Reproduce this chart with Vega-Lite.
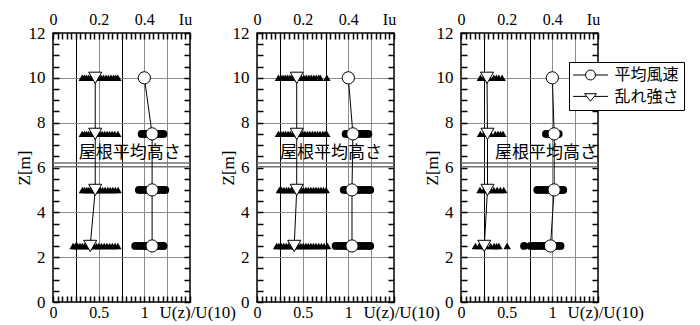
{
  "$schema": "https://vega.github.io/schema/vega-lite/v6.json",
  "padding": {"left": 14, "top": 10, "right": 0, "bottom": 0},
  "background": "white",
  "spacing": 67,
  "bounds": "flush",
  "resolve": {"legend": {"shape": "independent"}},
  "datasets": {
    "mean": [
      {"p": 1, "z": 10, "u": 1.0}, {"p": 1, "z": 7.5, "u": 1.085}, {"p": 1, "z": 5, "u": 1.085}, {"p": 1, "z": 2.5, "u": 1.085},
      {"p": 2, "z": 10, "u": 1.0}, {"p": 2, "z": 7.5, "u": 1.05}, {"p": 2, "z": 5, "u": 1.04}, {"p": 2, "z": 2.5, "u": 1.04},
      {"p": 3, "z": 10, "u": 1.0}, {"p": 3, "z": 7.5, "u": 1.02}, {"p": 3, "z": 5, "u": 1.02}, {"p": 3, "z": 2.5, "u": 0.98}
    ],
    "meanSpread": [
      {"p": 1, "z": 7.5, "u": 0.97}, {"p": 1, "z": 7.5, "u": 0.99}, {"p": 1, "z": 7.5, "u": 1.02}, {"p": 1, "z": 7.5, "u": 1.05}, {"p": 1, "z": 7.5, "u": 1.08}, {"p": 1, "z": 7.5, "u": 1.11}, {"p": 1, "z": 7.5, "u": 1.14}, {"p": 1, "z": 7.5, "u": 1.17}, {"p": 1, "z": 7.5, "u": 1.19}, {"p": 1, "z": 7.5, "u": 1.21},
      {"p": 1, "z": 5, "u": 0.94}, {"p": 1, "z": 5, "u": 0.97}, {"p": 1, "z": 5, "u": 1.0}, {"p": 1, "z": 5, "u": 1.03}, {"p": 1, "z": 5, "u": 1.06}, {"p": 1, "z": 5, "u": 1.09}, {"p": 1, "z": 5, "u": 1.12}, {"p": 1, "z": 5, "u": 1.15}, {"p": 1, "z": 5, "u": 1.18}, {"p": 1, "z": 5, "u": 1.21}, {"p": 1, "z": 5, "u": 1.23},
      {"p": 1, "z": 2.5, "u": 0.9}, {"p": 1, "z": 2.5, "u": 0.93}, {"p": 1, "z": 2.5, "u": 0.96}, {"p": 1, "z": 2.5, "u": 0.99}, {"p": 1, "z": 2.5, "u": 1.02}, {"p": 1, "z": 2.5, "u": 1.05}, {"p": 1, "z": 2.5, "u": 1.08}, {"p": 1, "z": 2.5, "u": 1.11}, {"p": 1, "z": 2.5, "u": 1.14}, {"p": 1, "z": 2.5, "u": 1.17}, {"p": 1, "z": 2.5, "u": 1.2}, {"p": 1, "z": 2.5, "u": 1.21},
      {"p": 2, "z": 7.5, "u": 0.97}, {"p": 2, "z": 7.5, "u": 1.0}, {"p": 2, "z": 7.5, "u": 1.03}, {"p": 2, "z": 7.5, "u": 1.06}, {"p": 2, "z": 7.5, "u": 1.09}, {"p": 2, "z": 7.5, "u": 1.12}, {"p": 2, "z": 7.5, "u": 1.15}, {"p": 2, "z": 7.5, "u": 1.18}, {"p": 2, "z": 7.5, "u": 1.2}, {"p": 2, "z": 7.5, "u": 1.22},
      {"p": 2, "z": 5, "u": 0.95}, {"p": 2, "z": 5, "u": 0.98}, {"p": 2, "z": 5, "u": 1.01}, {"p": 2, "z": 5, "u": 1.04}, {"p": 2, "z": 5, "u": 1.07}, {"p": 2, "z": 5, "u": 1.1}, {"p": 2, "z": 5, "u": 1.13}, {"p": 2, "z": 5, "u": 1.16}, {"p": 2, "z": 5, "u": 1.19}, {"p": 2, "z": 5, "u": 1.22}, {"p": 2, "z": 5, "u": 1.24},
      {"p": 2, "z": 2.5, "u": 0.86}, {"p": 2, "z": 2.5, "u": 0.89}, {"p": 2, "z": 2.5, "u": 0.92}, {"p": 2, "z": 2.5, "u": 0.95}, {"p": 2, "z": 2.5, "u": 0.98}, {"p": 2, "z": 2.5, "u": 1.01}, {"p": 2, "z": 2.5, "u": 1.04}, {"p": 2, "z": 2.5, "u": 1.07}, {"p": 2, "z": 2.5, "u": 1.1}, {"p": 2, "z": 2.5, "u": 1.13}, {"p": 2, "z": 2.5, "u": 1.16}, {"p": 2, "z": 2.5, "u": 1.19}, {"p": 2, "z": 2.5, "u": 1.22}, {"p": 2, "z": 2.5, "u": 1.24},
      {"p": 3, "z": 7.5, "u": 0.93}, {"p": 3, "z": 7.5, "u": 0.95}, {"p": 3, "z": 7.5, "u": 0.98}, {"p": 3, "z": 7.5, "u": 1.0}, {"p": 3, "z": 7.5, "u": 1.03}, {"p": 3, "z": 7.5, "u": 1.05}, {"p": 3, "z": 7.5, "u": 1.07},
      {"p": 3, "z": 5, "u": 0.835}, {"p": 3, "z": 5, "u": 0.86}, {"p": 3, "z": 5, "u": 0.89}, {"p": 3, "z": 5, "u": 0.92}, {"p": 3, "z": 5, "u": 0.95}, {"p": 3, "z": 5, "u": 0.99}, {"p": 3, "z": 5, "u": 1.02}, {"p": 3, "z": 5, "u": 1.05}, {"p": 3, "z": 5, "u": 1.08}, {"p": 3, "z": 5, "u": 1.1}, {"p": 3, "z": 5, "u": 1.12},
      {"p": 3, "z": 2.5, "u": 0.69}, {"p": 3, "z": 2.5, "u": 0.76}, {"p": 3, "z": 2.5, "u": 0.79}, {"p": 3, "z": 2.5, "u": 0.82}, {"p": 3, "z": 2.5, "u": 0.85}, {"p": 3, "z": 2.5, "u": 0.88}, {"p": 3, "z": 2.5, "u": 0.91}, {"p": 3, "z": 2.5, "u": 0.94}, {"p": 3, "z": 2.5, "u": 0.97}, {"p": 3, "z": 2.5, "u": 1.0}, {"p": 3, "z": 2.5, "u": 1.03}, {"p": 3, "z": 2.5, "u": 1.06}, {"p": 3, "z": 2.5, "u": 1.09}
    ],
    "iu": [
      {"p": 1, "z": 10, "iu": 0.185}, {"p": 1, "z": 7.5, "iu": 0.185}, {"p": 1, "z": 5, "iu": 0.185}, {"p": 1, "z": 2.5, "iu": 0.163},
      {"p": 2, "z": 10, "iu": 0.174}, {"p": 2, "z": 7.5, "iu": 0.174}, {"p": 2, "z": 5, "iu": 0.174}, {"p": 2, "z": 2.5, "iu": 0.163},
      {"p": 3, "z": 10, "iu": 0.114}, {"p": 3, "z": 7.5, "iu": 0.116}, {"p": 3, "z": 5, "iu": 0.116}, {"p": 3, "z": 2.5, "iu": 0.102}
    ],
    "iuSpread": [
      {"p": 1, "z": 10, "iu": 0.128}, {"p": 1, "z": 10, "iu": 0.137}, {"p": 1, "z": 10, "iu": 0.146}, {"p": 1, "z": 10, "iu": 0.155}, {"p": 1, "z": 10, "iu": 0.164}, {"p": 1, "z": 10, "iu": 0.173}, {"p": 1, "z": 10, "iu": 0.182}, {"p": 1, "z": 10, "iu": 0.192}, {"p": 1, "z": 10, "iu": 0.201}, {"p": 1, "z": 10, "iu": 0.211}, {"p": 1, "z": 10, "iu": 0.221}, {"p": 1, "z": 10, "iu": 0.232}, {"p": 1, "z": 10, "iu": 0.243}, {"p": 1, "z": 10, "iu": 0.254}, {"p": 1, "z": 10, "iu": 0.265}, {"p": 1, "z": 10, "iu": 0.275}, {"p": 1, "z": 10, "iu": 0.284},
      {"p": 1, "z": 7.5, "iu": 0.128}, {"p": 1, "z": 7.5, "iu": 0.138}, {"p": 1, "z": 7.5, "iu": 0.147}, {"p": 1, "z": 7.5, "iu": 0.156}, {"p": 1, "z": 7.5, "iu": 0.166}, {"p": 1, "z": 7.5, "iu": 0.175}, {"p": 1, "z": 7.5, "iu": 0.185}, {"p": 1, "z": 7.5, "iu": 0.195}, {"p": 1, "z": 7.5, "iu": 0.205}, {"p": 1, "z": 7.5, "iu": 0.215}, {"p": 1, "z": 7.5, "iu": 0.226}, {"p": 1, "z": 7.5, "iu": 0.237}, {"p": 1, "z": 7.5, "iu": 0.248}, {"p": 1, "z": 7.5, "iu": 0.259}, {"p": 1, "z": 7.5, "iu": 0.27}, {"p": 1, "z": 7.5, "iu": 0.284},
      {"p": 1, "z": 5, "iu": 0.129}, {"p": 1, "z": 5, "iu": 0.138}, {"p": 1, "z": 5, "iu": 0.148}, {"p": 1, "z": 5, "iu": 0.157}, {"p": 1, "z": 5, "iu": 0.167}, {"p": 1, "z": 5, "iu": 0.177}, {"p": 1, "z": 5, "iu": 0.187}, {"p": 1, "z": 5, "iu": 0.197}, {"p": 1, "z": 5, "iu": 0.207}, {"p": 1, "z": 5, "iu": 0.217}, {"p": 1, "z": 5, "iu": 0.228}, {"p": 1, "z": 5, "iu": 0.24}, {"p": 1, "z": 5, "iu": 0.251}, {"p": 1, "z": 5, "iu": 0.262}, {"p": 1, "z": 5, "iu": 0.273}, {"p": 1, "z": 5, "iu": 0.285},
      {"p": 1, "z": 2.5, "iu": 0.088}, {"p": 1, "z": 2.5, "iu": 0.098}, {"p": 1, "z": 2.5, "iu": 0.108}, {"p": 1, "z": 2.5, "iu": 0.118}, {"p": 1, "z": 2.5, "iu": 0.128}, {"p": 1, "z": 2.5, "iu": 0.138}, {"p": 1, "z": 2.5, "iu": 0.148}, {"p": 1, "z": 2.5, "iu": 0.158}, {"p": 1, "z": 2.5, "iu": 0.168}, {"p": 1, "z": 2.5, "iu": 0.179}, {"p": 1, "z": 2.5, "iu": 0.19}, {"p": 1, "z": 2.5, "iu": 0.201}, {"p": 1, "z": 2.5, "iu": 0.212}, {"p": 1, "z": 2.5, "iu": 0.224}, {"p": 1, "z": 2.5, "iu": 0.236}, {"p": 1, "z": 2.5, "iu": 0.248}, {"p": 1, "z": 2.5, "iu": 0.26}, {"p": 1, "z": 2.5, "iu": 0.272}, {"p": 1, "z": 2.5, "iu": 0.284},
      {"p": 2, "z": 10, "iu": 0.094}, {"p": 2, "z": 10, "iu": 0.104}, {"p": 2, "z": 10, "iu": 0.114}, {"p": 2, "z": 10, "iu": 0.124}, {"p": 2, "z": 10, "iu": 0.134}, {"p": 2, "z": 10, "iu": 0.144}, {"p": 2, "z": 10, "iu": 0.154}, {"p": 2, "z": 10, "iu": 0.164}, {"p": 2, "z": 10, "iu": 0.174}, {"p": 2, "z": 10, "iu": 0.184}, {"p": 2, "z": 10, "iu": 0.194}, {"p": 2, "z": 10, "iu": 0.205}, {"p": 2, "z": 10, "iu": 0.216}, {"p": 2, "z": 10, "iu": 0.227}, {"p": 2, "z": 10, "iu": 0.238}, {"p": 2, "z": 10, "iu": 0.249}, {"p": 2, "z": 10, "iu": 0.26}, {"p": 2, "z": 10, "iu": 0.27}, {"p": 2, "z": 10, "iu": 0.277}, {"p": 2, "z": 10, "iu": 0.306},
      {"p": 2, "z": 7.5, "iu": 0.094}, {"p": 2, "z": 7.5, "iu": 0.104}, {"p": 2, "z": 7.5, "iu": 0.115}, {"p": 2, "z": 7.5, "iu": 0.125}, {"p": 2, "z": 7.5, "iu": 0.136}, {"p": 2, "z": 7.5, "iu": 0.146}, {"p": 2, "z": 7.5, "iu": 0.157}, {"p": 2, "z": 7.5, "iu": 0.167}, {"p": 2, "z": 7.5, "iu": 0.178}, {"p": 2, "z": 7.5, "iu": 0.188}, {"p": 2, "z": 7.5, "iu": 0.199}, {"p": 2, "z": 7.5, "iu": 0.21}, {"p": 2, "z": 7.5, "iu": 0.221}, {"p": 2, "z": 7.5, "iu": 0.232}, {"p": 2, "z": 7.5, "iu": 0.243}, {"p": 2, "z": 7.5, "iu": 0.254}, {"p": 2, "z": 7.5, "iu": 0.265}, {"p": 2, "z": 7.5, "iu": 0.276}, {"p": 2, "z": 7.5, "iu": 0.288}, {"p": 2, "z": 7.5, "iu": 0.298}, {"p": 2, "z": 7.5, "iu": 0.306},
      {"p": 2, "z": 5, "iu": 0.098}, {"p": 2, "z": 5, "iu": 0.108}, {"p": 2, "z": 5, "iu": 0.118}, {"p": 2, "z": 5, "iu": 0.129}, {"p": 2, "z": 5, "iu": 0.139}, {"p": 2, "z": 5, "iu": 0.15}, {"p": 2, "z": 5, "iu": 0.16}, {"p": 2, "z": 5, "iu": 0.171}, {"p": 2, "z": 5, "iu": 0.181}, {"p": 2, "z": 5, "iu": 0.192}, {"p": 2, "z": 5, "iu": 0.203}, {"p": 2, "z": 5, "iu": 0.214}, {"p": 2, "z": 5, "iu": 0.225}, {"p": 2, "z": 5, "iu": 0.236}, {"p": 2, "z": 5, "iu": 0.247}, {"p": 2, "z": 5, "iu": 0.258}, {"p": 2, "z": 5, "iu": 0.269}, {"p": 2, "z": 5, "iu": 0.28}, {"p": 2, "z": 5, "iu": 0.291}, {"p": 2, "z": 5, "iu": 0.303},
      {"p": 2, "z": 2.5, "iu": 0.086}, {"p": 2, "z": 2.5, "iu": 0.096}, {"p": 2, "z": 2.5, "iu": 0.107}, {"p": 2, "z": 2.5, "iu": 0.117}, {"p": 2, "z": 2.5, "iu": 0.128}, {"p": 2, "z": 2.5, "iu": 0.138}, {"p": 2, "z": 2.5, "iu": 0.149}, {"p": 2, "z": 2.5, "iu": 0.159}, {"p": 2, "z": 2.5, "iu": 0.17}, {"p": 2, "z": 2.5, "iu": 0.181}, {"p": 2, "z": 2.5, "iu": 0.192}, {"p": 2, "z": 2.5, "iu": 0.203}, {"p": 2, "z": 2.5, "iu": 0.214}, {"p": 2, "z": 2.5, "iu": 0.225}, {"p": 2, "z": 2.5, "iu": 0.236}, {"p": 2, "z": 2.5, "iu": 0.247}, {"p": 2, "z": 2.5, "iu": 0.258}, {"p": 2, "z": 2.5, "iu": 0.27}, {"p": 2, "z": 2.5, "iu": 0.282}, {"p": 2, "z": 2.5, "iu": 0.294}, {"p": 2, "z": 2.5, "iu": 0.309},
      {"p": 3, "z": 10, "iu": 0.085}, {"p": 3, "z": 10, "iu": 0.1}, {"p": 3, "z": 10, "iu": 0.112}, {"p": 3, "z": 10, "iu": 0.125}, {"p": 3, "z": 10, "iu": 0.144}, {"p": 3, "z": 10, "iu": 0.155}, {"p": 3, "z": 10, "iu": 0.166}, {"p": 3, "z": 10, "iu": 0.18},
      {"p": 3, "z": 7.5, "iu": 0.085}, {"p": 3, "z": 7.5, "iu": 0.1}, {"p": 3, "z": 7.5, "iu": 0.116}, {"p": 3, "z": 7.5, "iu": 0.13}, {"p": 3, "z": 7.5, "iu": 0.15}, {"p": 3, "z": 7.5, "iu": 0.162}, {"p": 3, "z": 7.5, "iu": 0.173}, {"p": 3, "z": 7.5, "iu": 0.184},
      {"p": 3, "z": 5, "iu": 0.083}, {"p": 3, "z": 5, "iu": 0.1}, {"p": 3, "z": 5, "iu": 0.116}, {"p": 3, "z": 5, "iu": 0.13}, {"p": 3, "z": 5, "iu": 0.144}, {"p": 3, "z": 5, "iu": 0.158}, {"p": 3, "z": 5, "iu": 0.172}, {"p": 3, "z": 5, "iu": 0.187},
      {"p": 3, "z": 2.5, "iu": 0.063}, {"p": 3, "z": 2.5, "iu": 0.08}, {"p": 3, "z": 2.5, "iu": 0.095}, {"p": 3, "z": 2.5, "iu": 0.11}, {"p": 3, "z": 2.5, "iu": 0.13}, {"p": 3, "z": 2.5, "iu": 0.145}, {"p": 3, "z": 2.5, "iu": 0.156}, {"p": 3, "z": 2.5, "iu": 0.166}, {"p": 3, "z": 2.5, "iu": 0.202}
    ],
    "series": [
      {"series": "平均風速", "z": 10, "u": 1.0},
      {"series": "乱れ強さ", "z": 10, "u": 1.0}
    ]
  },
  "hconcat": [
    {
      "width": 137, "height": 269,
      "resolve": {"scale": {"x": "independent"}, "axis": {"x": "independent", "y": "independent"}},
      "layer": [
        {"data": {"values": [{"h": 6.03}, {"h": 6.2}]}, "mark": {"type": "rule", "color": "#707070", "strokeWidth": 1.5},
         "encoding": {"y": {"field": "h", "type": "quantitative", "scale": {"domain": [0, 12], "nice": false},
           "axis": {"orient": "left", "values": [2, 4, 8, 10], "grid": true, "gridColor": "#8c8c8c", "gridWidth": 1, "labels": false, "ticks": false, "domain": false, "title": null}}}},
        {"data": {"name": "mean"}, "transform": [{"filter": "datum.p == 1"}],
         "mark": {"type": "line", "color": "black", "strokeWidth": 1},
         "encoding": {"x": {"field": "u", "type": "quantitative", "scale": {"domain": [0, 1.5], "nice": false},
           "axis": {"orient": "bottom", "values": [0.5, 1, 1.25], "grid": true, "gridColor": "#8c8c8c", "gridWidth": 1, "labels": false, "ticks": false, "domain": false, "title": null}},
           "y": {"field": "z", "type": "quantitative", "axis": null}, "order": {"field": "z"}}},
        {"data": {"name": "series"},
         "mark": {"type": "point", "filled": false, "color": "black", "opacity": 0},
         "encoding": {
           "x": {"field": "u", "type": "quantitative", "scale": {"domain": [0, 1.5], "nice": false},
             "axis": {"orient": "bottom", "values": [0.25, 0.75], "grid": true, "gridColor": "#000000", "gridWidth": 1, "labels": false, "ticks": false, "domain": false, "title": null}},
           "y": {"field": "z", "type": "quantitative", "axis": null}}},
        {"data": {"name": "meanSpread"}, "transform": [{"filter": "datum.p == 1"}],
         "mark": {"type": "point", "shape": "circle", "filled": true, "color": "black", "size": 60, "opacity": 1},
         "encoding": {
           "x": {"field": "u", "type": "quantitative", "scale": {"domain": [0, 1.5], "nice": false},
             "axis": {"orient": "bottom", "values": [0,0.05,0.1,0.15,0.2,0.25,0.3,0.35,0.4,0.45,0.5,0.55,0.6,0.65,0.7,0.75,0.8,0.85,0.9,0.95,1,1.05,1.1,1.15,1.2,1.25,1.3,1.35,1.4,1.45,1.5],
               "labelExpr": "abs(datum.value)<0.001 ? '0' : abs(datum.value-0.5)<0.001 ? '0.5' : abs(datum.value-1)<0.001 ? '1' : ''",
               "labelFont": "Liberation Serif", "labelFontSize": 16, "labelBaseline": "alphabetic", "labelPadding": 15,
               "ticks": false, "grid": true, "gridColor": "#000000", "gridWidth": 1.5, "gridDash": [6, 257, 6],
               "title": "U(z)/U(10)", "titleFont": "Liberation Serif", "titleX": 106, "titleY": 15, "titleAlign": "left", "titleBaseline": "alphabetic", "titleFontSize": 17}},
           "y": {"field": "z", "type": "quantitative", "scale": {"domain": [0, 12], "nice": false},
             "axis": {"orient": "left", "values": [0,0.5,1,1.5,2,2.5,3,3.5,4,4.5,5,5.5,6,6.5,7,7.5,8,8.5,9,9.5,10,10.5,11,11.5,12],
               "labelExpr": "datum.value % 2 == 0 ? format(datum.value, 'd') : ''",
               "labelFont": "Liberation Serif", "labelFontSize": 17, "labelPadding": 8,
               "ticks": false, "grid": true, "gridColor": "#000000", "gridWidth": 1.5, "gridDash": [6, 125, 6],
               "title": "Z[m]", "titleFont": "Liberation Serif", "titleX": -29, "titleY": 134.5, "titleAngle": -90, "titleAlign": "center", "titleBaseline": "middle", "titleFontSize": 17}}
         }},
        {"data": {"name": "iuSpread"}, "transform": [{"filter": "datum.p == 1"}],
         "mark": {"type": "point", "shape": "triangle-up", "filled": true, "color": "black", "size": 55, "opacity": 1},
         "encoding": {
           "x": {"field": "iu", "type": "quantitative", "scale": {"domain": [0, 0.6], "nice": false},
             "axis": {"orient": "top", "values": [0, 0.2, 0.4],
               "labelExpr": "abs(datum.value)<0.001 ? '0' : format(datum.value, '.1f')",
               "labelFont": "Liberation Serif", "labelFontSize": 16, "labelBaseline": "alphabetic", "labelPadding": 9,
               "ticks": false, "grid": false,
               "title": "Iu", "titleFont": "Liberation Serif", "titleX": 132, "titleY": -9, "titleAlign": "center", "titleBaseline": "alphabetic", "titleFontSize": 16}},
           "y": {"field": "z", "type": "quantitative", "axis": null}
         }},
        {"data": {"name": "mean"}, "transform": [{"filter": "datum.p == 1"}],
         "mark": {"type": "point", "shape": "circle", "filled": true, "fill": "white", "stroke": "black", "strokeWidth": 1, "size": 150, "opacity": 1},
         "encoding": {"x": {"field": "u", "type": "quantitative", "scale": {"domain": [0, 1.5], "nice": false}, "axis": null}, "y": {"field": "z", "type": "quantitative", "axis": null}}},
        {"data": {"name": "iu"}, "transform": [{"filter": "datum.p == 1"}],
         "mark": {"type": "line", "color": "black", "strokeWidth": 1},
         "encoding": {"x": {"field": "iu", "type": "quantitative", "scale": {"domain": [0, 0.6], "nice": false}, "axis": null}, "y": {"field": "z", "type": "quantitative", "axis": null}, "order": {"field": "z"}}},
        {"data": {"name": "iu"}, "transform": [{"filter": "datum.p == 1"}],
         "mark": {"type": "point", "shape": "triangle-down", "filled": true, "fill": "white", "stroke": "black", "strokeWidth": 1, "size": 170, "opacity": 1},
         "encoding": {"x": {"field": "iu", "type": "quantitative", "scale": {"domain": [0, 0.6], "nice": false}, "axis": null}, "y": {"field": "z", "type": "quantitative", "axis": null}}},
        {"data": {"values": [{"t": "屋根平均高さ"}]},
         "mark": {"type": "text", "font": "Noto Sans CJK JP", "fontSize": 17, "color": "black"},
         "encoding": {"x": {"datum": 0.84, "type": "quantitative", "scale": {"domain": [0, 1.5], "nice": false}, "axis": null}, "y": {"datum": 6.65, "type": "quantitative", "axis": null}, "text": {"field": "t"}}}
      ]
    },
    {
      "width": 137, "height": 269,
      "resolve": {"scale": {"x": "independent"}, "axis": {"x": "independent", "y": "independent"}},
      "layer": [
        {"data": {"values": [{"h": 6.03}, {"h": 6.2}]}, "mark": {"type": "rule", "color": "#707070", "strokeWidth": 1.5},
         "encoding": {"y": {"field": "h", "type": "quantitative", "scale": {"domain": [0, 12], "nice": false},
           "axis": {"orient": "left", "values": [2, 4, 8, 10], "grid": true, "gridColor": "#8c8c8c", "gridWidth": 1, "labels": false, "ticks": false, "domain": false, "title": null}}}},
        {"data": {"name": "mean"}, "transform": [{"filter": "datum.p == 2"}],
         "mark": {"type": "line", "color": "black", "strokeWidth": 1},
         "encoding": {"x": {"field": "u", "type": "quantitative", "scale": {"domain": [0, 1.5], "nice": false},
           "axis": {"orient": "bottom", "values": [0.5, 1, 1.25], "grid": true, "gridColor": "#8c8c8c", "gridWidth": 1, "labels": false, "ticks": false, "domain": false, "title": null}},
           "y": {"field": "z", "type": "quantitative", "axis": null}, "order": {"field": "z"}}},
        {"data": {"name": "series"},
         "mark": {"type": "point", "filled": false, "color": "black", "opacity": 0},
         "encoding": {
           "x": {"field": "u", "type": "quantitative", "scale": {"domain": [0, 1.5], "nice": false},
             "axis": {"orient": "bottom", "values": [0.25, 0.75], "grid": true, "gridColor": "#000000", "gridWidth": 1, "labels": false, "ticks": false, "domain": false, "title": null}},
           "y": {"field": "z", "type": "quantitative", "axis": null}}},
        {"data": {"name": "meanSpread"}, "transform": [{"filter": "datum.p == 2"}],
         "mark": {"type": "point", "shape": "circle", "filled": true, "color": "black", "size": 60, "opacity": 1},
         "encoding": {
           "x": {"field": "u", "type": "quantitative", "scale": {"domain": [0, 1.5], "nice": false},
             "axis": {"orient": "bottom", "values": [0,0.05,0.1,0.15,0.2,0.25,0.3,0.35,0.4,0.45,0.5,0.55,0.6,0.65,0.7,0.75,0.8,0.85,0.9,0.95,1,1.05,1.1,1.15,1.2,1.25,1.3,1.35,1.4,1.45,1.5],
               "labelExpr": "abs(datum.value)<0.001 ? '0' : abs(datum.value-0.5)<0.001 ? '0.5' : abs(datum.value-1)<0.001 ? '1' : ''",
               "labelFont": "Liberation Serif", "labelFontSize": 16, "labelBaseline": "alphabetic", "labelPadding": 15,
               "ticks": false, "grid": true, "gridColor": "#000000", "gridWidth": 1.5, "gridDash": [6, 257, 6],
               "title": "U(z)/U(10)", "titleFont": "Liberation Serif", "titleX": 106, "titleY": 15, "titleAlign": "left", "titleBaseline": "alphabetic", "titleFontSize": 17}},
           "y": {"field": "z", "type": "quantitative", "scale": {"domain": [0, 12], "nice": false},
             "axis": {"orient": "left", "values": [0,0.5,1,1.5,2,2.5,3,3.5,4,4.5,5,5.5,6,6.5,7,7.5,8,8.5,9,9.5,10,10.5,11,11.5,12],
               "labelExpr": "datum.value % 2 == 0 ? format(datum.value, 'd') : ''",
               "labelFont": "Liberation Serif", "labelFontSize": 17, "labelPadding": 8,
               "ticks": false, "grid": true, "gridColor": "#000000", "gridWidth": 1.5, "gridDash": [6, 125, 6],
               "title": "Z[m]", "titleFont": "Liberation Serif", "titleX": -29, "titleY": 134.5, "titleAngle": -90, "titleAlign": "center", "titleBaseline": "middle", "titleFontSize": 17}}
         }},
        {"data": {"name": "iuSpread"}, "transform": [{"filter": "datum.p == 2"}],
         "mark": {"type": "point", "shape": "triangle-up", "filled": true, "color": "black", "size": 55, "opacity": 1},
         "encoding": {
           "x": {"field": "iu", "type": "quantitative", "scale": {"domain": [0, 0.6], "nice": false},
             "axis": {"orient": "top", "values": [0, 0.2, 0.4],
               "labelExpr": "abs(datum.value)<0.001 ? '0' : format(datum.value, '.1f')",
               "labelFont": "Liberation Serif", "labelFontSize": 16, "labelBaseline": "alphabetic", "labelPadding": 9,
               "ticks": false, "grid": false,
               "title": "Iu", "titleFont": "Liberation Serif", "titleX": 132, "titleY": -9, "titleAlign": "center", "titleBaseline": "alphabetic", "titleFontSize": 16}},
           "y": {"field": "z", "type": "quantitative", "axis": null}
         }},
        {"data": {"name": "mean"}, "transform": [{"filter": "datum.p == 2"}],
         "mark": {"type": "point", "shape": "circle", "filled": true, "fill": "white", "stroke": "black", "strokeWidth": 1, "size": 150, "opacity": 1},
         "encoding": {"x": {"field": "u", "type": "quantitative", "scale": {"domain": [0, 1.5], "nice": false}, "axis": null}, "y": {"field": "z", "type": "quantitative", "axis": null}}},
        {"data": {"name": "iu"}, "transform": [{"filter": "datum.p == 2"}],
         "mark": {"type": "line", "color": "black", "strokeWidth": 1},
         "encoding": {"x": {"field": "iu", "type": "quantitative", "scale": {"domain": [0, 0.6], "nice": false}, "axis": null}, "y": {"field": "z", "type": "quantitative", "axis": null}, "order": {"field": "z"}}},
        {"data": {"name": "iu"}, "transform": [{"filter": "datum.p == 2"}],
         "mark": {"type": "point", "shape": "triangle-down", "filled": true, "fill": "white", "stroke": "black", "strokeWidth": 1, "size": 170, "opacity": 1},
         "encoding": {"x": {"field": "iu", "type": "quantitative", "scale": {"domain": [0, 0.6], "nice": false}, "axis": null}, "y": {"field": "z", "type": "quantitative", "axis": null}}},
        {"data": {"values": [{"t": "屋根平均高さ"}]},
         "mark": {"type": "text", "font": "Noto Sans CJK JP", "fontSize": 17, "color": "black"},
         "encoding": {"x": {"datum": 0.81, "type": "quantitative", "scale": {"domain": [0, 1.5], "nice": false}, "axis": null}, "y": {"datum": 6.65, "type": "quantitative", "axis": null}, "text": {"field": "t"}}}
      ]
    },
    {
      "width": 137, "height": 269,
      "resolve": {"scale": {"x": "independent"}, "axis": {"x": "independent", "y": "independent"}},
      "layer": [
        {"data": {"values": [{"h": 6.03}, {"h": 6.2}]}, "mark": {"type": "rule", "color": "#707070", "strokeWidth": 1.5},
         "encoding": {"y": {"field": "h", "type": "quantitative", "scale": {"domain": [0, 12], "nice": false},
           "axis": {"orient": "left", "values": [2, 4, 8, 10], "grid": true, "gridColor": "#8c8c8c", "gridWidth": 1, "labels": false, "ticks": false, "domain": false, "title": null}}}},
        {"data": {"name": "mean"}, "transform": [{"filter": "datum.p == 3"}],
         "mark": {"type": "line", "color": "black", "strokeWidth": 1},
         "encoding": {"x": {"field": "u", "type": "quantitative", "scale": {"domain": [0, 1.5], "nice": false},
           "axis": {"orient": "bottom", "values": [0.5, 1, 1.25], "grid": true, "gridColor": "#8c8c8c", "gridWidth": 1, "labels": false, "ticks": false, "domain": false, "title": null}},
           "y": {"field": "z", "type": "quantitative", "axis": null}, "order": {"field": "z"}}},
        {"data": {"name": "series"},
         "mark": {"type": "point", "filled": false, "color": "black", "opacity": 0},
         "encoding": {
           "x": {"field": "u", "type": "quantitative", "scale": {"domain": [0, 1.5], "nice": false},
             "axis": {"orient": "bottom", "values": [0.25, 0.75], "grid": true, "gridColor": "#000000", "gridWidth": 1, "labels": false, "ticks": false, "domain": false, "title": null}},
           "y": {"field": "z", "type": "quantitative", "axis": null},
           "shape": {"field": "series", "type": "nominal",
             "scale": {"domain": ["平均風速", "乱れ強さ"], "range": ["M-2.9,0L-0.83,0M0.83,0L2.9,0M-0.83,0A0.83,0.83,0,1,1,0.83,0A0.83,0.83,0,1,1,-0.83,0Z", "M-2.9,-0.1L-0.64,-0.1M0.64,-0.1L2.9,-0.1M-1,-0.55L1,-0.55L0,0.7Z"]},
             "legend": {"orient": "none", "legendX": 108, "legendY": 29, "title": null, "padding": 5, "strokeColor": "black", "fillColor": "white",
               "labelFont": "Noto Sans CJK JP", "labelFontSize": 16, "labelColor": "black", "symbolSize": 144, "symbolStrokeColor": "black",
               "symbolStrokeWidth": 1, "symbolFillColor": "white", "symbolOpacity": 1, "symbolOffset": 8.5, "labelOffset": 16, "rowPadding": 6}}
         }},
        {"data": {"name": "meanSpread"}, "transform": [{"filter": "datum.p == 3"}],
         "mark": {"type": "point", "shape": "circle", "filled": true, "color": "black", "size": 60, "opacity": 1},
         "encoding": {
           "x": {"field": "u", "type": "quantitative", "scale": {"domain": [0, 1.5], "nice": false},
             "axis": {"orient": "bottom", "values": [0,0.05,0.1,0.15,0.2,0.25,0.3,0.35,0.4,0.45,0.5,0.55,0.6,0.65,0.7,0.75,0.8,0.85,0.9,0.95,1,1.05,1.1,1.15,1.2,1.25,1.3,1.35,1.4,1.45,1.5],
               "labelExpr": "abs(datum.value)<0.001 ? '0' : abs(datum.value-0.5)<0.001 ? '0.5' : abs(datum.value-1)<0.001 ? '1' : ''",
               "labelFont": "Liberation Serif", "labelFontSize": 16, "labelBaseline": "alphabetic", "labelPadding": 15,
               "ticks": false, "grid": true, "gridColor": "#000000", "gridWidth": 1.5, "gridDash": [6, 257, 6],
               "title": "U(z)/U(10)", "titleFont": "Liberation Serif", "titleX": 106, "titleY": 15, "titleAlign": "left", "titleBaseline": "alphabetic", "titleFontSize": 17}},
           "y": {"field": "z", "type": "quantitative", "scale": {"domain": [0, 12], "nice": false},
             "axis": {"orient": "left", "values": [0,0.5,1,1.5,2,2.5,3,3.5,4,4.5,5,5.5,6,6.5,7,7.5,8,8.5,9,9.5,10,10.5,11,11.5,12],
               "labelExpr": "datum.value % 2 == 0 ? format(datum.value, 'd') : ''",
               "labelFont": "Liberation Serif", "labelFontSize": 17, "labelPadding": 8,
               "ticks": false, "grid": true, "gridColor": "#000000", "gridWidth": 1.5, "gridDash": [6, 125, 6],
               "title": "Z[m]", "titleFont": "Liberation Serif", "titleX": -29, "titleY": 134.5, "titleAngle": -90, "titleAlign": "center", "titleBaseline": "middle", "titleFontSize": 17}}
         }},
        {"data": {"name": "iuSpread"}, "transform": [{"filter": "datum.p == 3"}],
         "mark": {"type": "point", "shape": "triangle-up", "filled": true, "color": "black", "size": 55, "opacity": 1},
         "encoding": {
           "x": {"field": "iu", "type": "quantitative", "scale": {"domain": [0, 0.6], "nice": false},
             "axis": {"orient": "top", "values": [0, 0.2, 0.4],
               "labelExpr": "abs(datum.value)<0.001 ? '0' : format(datum.value, '.1f')",
               "labelFont": "Liberation Serif", "labelFontSize": 16, "labelBaseline": "alphabetic", "labelPadding": 9,
               "ticks": false, "grid": false,
               "title": "Iu", "titleFont": "Liberation Serif", "titleX": 132, "titleY": -9, "titleAlign": "center", "titleBaseline": "alphabetic", "titleFontSize": 16}},
           "y": {"field": "z", "type": "quantitative", "axis": null}
         }},
        {"data": {"name": "mean"}, "transform": [{"filter": "datum.p == 3"}],
         "mark": {"type": "point", "shape": "circle", "filled": true, "fill": "white", "stroke": "black", "strokeWidth": 1, "size": 150, "opacity": 1},
         "encoding": {"x": {"field": "u", "type": "quantitative", "scale": {"domain": [0, 1.5], "nice": false}, "axis": null}, "y": {"field": "z", "type": "quantitative", "axis": null}}},
        {"data": {"name": "iu"}, "transform": [{"filter": "datum.p == 3"}],
         "mark": {"type": "line", "color": "black", "strokeWidth": 1},
         "encoding": {"x": {"field": "iu", "type": "quantitative", "scale": {"domain": [0, 0.6], "nice": false}, "axis": null}, "y": {"field": "z", "type": "quantitative", "axis": null}, "order": {"field": "z"}}},
        {"data": {"name": "iu"}, "transform": [{"filter": "datum.p == 3"}],
         "mark": {"type": "point", "shape": "triangle-down", "filled": true, "fill": "white", "stroke": "black", "strokeWidth": 1, "size": 170, "opacity": 1},
         "encoding": {"x": {"field": "iu", "type": "quantitative", "scale": {"domain": [0, 0.6], "nice": false}, "axis": null}, "y": {"field": "z", "type": "quantitative", "axis": null}}},
        {"data": {"values": [{"t": "屋根平均高さ"}]},
         "mark": {"type": "text", "font": "Noto Sans CJK JP", "fontSize": 17, "color": "black"},
         "encoding": {"x": {"datum": 0.93, "type": "quantitative", "scale": {"domain": [0, 1.5], "nice": false}, "axis": null}, "y": {"datum": 6.65, "type": "quantitative", "axis": null}, "text": {"field": "t"}}}
      ]
    }
  ],
  "config": {
    "view": {"stroke": "black", "strokeWidth": 1.5},
    "axis": {"labelFont": "Liberation Serif", "titleFont": "Liberation Serif", "labelColor": "black", "titleColor": "black", "titleFontWeight": "normal", "tickColor": "black", "domain": false, "labelFlush": false, "labelOverlap": false},
    "font": "Liberation Serif"
  }
}
